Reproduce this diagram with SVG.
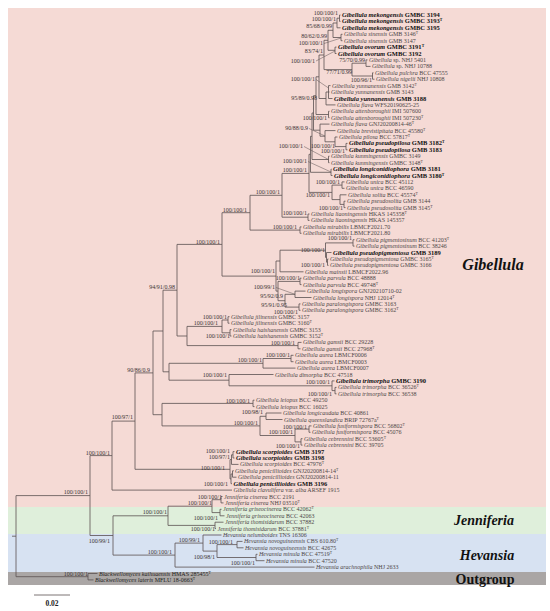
<svg xmlns="http://www.w3.org/2000/svg" width="550" height="611" viewBox="0 0 550 611">
<style>
.t{font-family:"Liberation Serif","Times New Roman",serif;font-size:6px;fill:#4d4747}
.b{font-weight:bold;fill:#111;font-size:6.5px}
.i{font-style:italic}
.sup{font-size:3.8px}
.s{font-family:"Liberation Serif","Times New Roman",serif;font-size:6px;fill:#3a3434;text-anchor:end}
.br{stroke:#5a5050;stroke-width:0.8;fill:none}
.ptr{stroke:#5a5050;stroke-width:0.5;fill:none}
.cl{font-family:"Liberation Serif","Times New Roman",serif;font-weight:bold;fill:#111;text-anchor:middle}
.og{fill:#1e1e1e}
</style>
<rect x="0" y="0" width="550" height="611" fill="#ffffff"/>
<g id="bands">
<rect x="8" y="8" width="538" height="499" fill="#f5dad5"/>
<rect x="8" y="507" width="538" height="27" fill="#dfefdb"/>
<rect x="8" y="534" width="538" height="38" fill="#d7e2f2"/>
<rect x="8" y="572" width="538" height="13" fill="#aaa6a5"/>
</g>
<g id="connectors">
<path class="br" d="M16 495.6V576.7M12 536.2H16M16 495.6H90M16 576.7H88
M88 573.5V579.9M88 573.5H97.5M88 579.9H93.5
M90 455.6V535.5M90 455.6H112M90 535.5H113
M112 421.1V490.1M112 421.1H135M112 490.1H232
M113 515.8V555.1M113 515.8H168M113 555.1H175
M135 372.9V469.3M135 372.9H153M135 469.3H230
M153 331V414.7M153 331H163M153 414.7H162
M163 290.2V371.8M163 290.2H177M163 371.8H169
M162 403.4V425.9M162 403.4H253M162 425.9H260
M177 244.4V336M177 244.4H222M177 336H187
M169 363.3V380.2M169 363.3H263M169 380.2H229
M222 212.7V276.1M222 212.7H250M222 276.1H276
M187 326.4V345.6M187 326.4H222M187 345.6H298
M222 320V332.8M222 320H228M222 332.8H230
M228 316.7V323.2M228 316.7H229.5M228 323.2H229.5
M230 329.6V336M230 329.6H231.5M230 336H231.5
M298 342.4V348.8M298 342.4H301.5M298 348.8H300.5
M250 195.3V230.1M250 195.3H282M250 230.1H300
M282 173.4V217.2M282 173.4H309M282 217.2H308
M308 214V220.4M308 214H309.5M308 220.4H309.5
M300 226.9V233.3M300 226.9H301.5M300 233.3H301.5
M276 261V291.1M276 261H280M276 291.1H278
M280 250.2V271.8M280 250.2H325.5M280 271.8H303.5
M325.5 242.9V257.4M325.5 242.9H353M325.5 257.4H326.5
M353 239.7V246.1M353 239.7H354.5M353 246.1H354.5
M326.5 252.5V262.2M326.5 252.5H331.5M326.5 262.2H327.5
M327.5 259V265.4M327.5 259H328.5M327.5 265.4H328.5
M278 281.4V300.7M278 281.4H300M278 300.7H285
M300 278.2V284.6M300 278.2H301.5M300 284.6H301.5
M285 294.3V307.1M285 294.3H295M285 307.1H299
M295 291.1V297.5M295 291.1H305.5M295 297.5H311.5
M299 303.9V310.3M299 303.9H300.5M299 310.3H300.5
M263 358.5V368.1M263 358.5H291M263 368.1H295.5
M291 355.3V361.7M291 355.3H293.5M291 361.7H293.5
M229 374.5V385.8M229 374.5H273.5M229 385.8H332
M332 380.9V390.6M332 380.9H334.5M332 390.6H335
M335 387.4V393.8M335 387.4H336.5M335 393.8H336.5
M253 400.2V406.6M253 400.2H254.5M253 406.6H254.5
M260 416.3V435.5M260 416.3H266M260 435.5H295
M266 413V419.5M266 413H281.5M266 419.5H282.5
M295 429.1V441.9M295 429.1H309M295 441.9H301
M309 425.9V432.3M309 425.9H311.5M309 432.3H310.5
M301 438.7V445.1M301 438.7H302.5M301 445.1H302.5
M230 459.6V478.9M230 459.6H231.5M230 478.9H231
M231.5 454.8V464.4M231.5 454.8H233M231.5 464.4H238.5
M233 451.6V458M233 451.6H234.5M233 458H234.5
M231 474V483.7M231 474H232.5M231 483.7H232
M232.5 470.8V477.2M232.5 470.8H233.8M232.5 477.2H236.5
M168 506.2V525.4M168 506.2H212M168 525.4H215
M212 499.7V512.6M212 499.7H221M212 512.6H220
M221 496.5V502.9M221 496.5H222.5M221 502.9H223.5
M220 509.3V515.8M220 509.3H221.5M220 515.8H224.5
M215 522.2V528.6M215 522.2H223.5M215 528.6H216
M175 543.1V567.1M175 543.1H203M175 567.1H314.5
M203 535V551.1M203 535H221.5M203 551.1H217
M217 544.6V557.5M217 544.6H237M217 557.5H256
M237 541.4V547.8M237 541.4H242.5M237 547.8H243.5
M256 554.3V560.7M256 554.3H257.5M256 560.7H264.5
M309 154.3V192.4M309 154.3H310.5M309 192.4H332
M310.5 136.3V172.3M310.5 136.3H312M310.5 172.3H331
M331 169.1V175.5M331 169.1H331.5M331 175.5H332.5
M312 113V159.5M312 113H313.5M312 159.5H328.5
M328.5 156.2V162.7M328.5 156.2H329.5M328.5 162.7H329.5
M313.5 95.7V130.2M313.5 95.7H316M313.5 130.2H320
M316 76.8V114.5M316 76.8H319M316 114.5H328.5
M328.5 111.3V117.7M328.5 111.3H329.5M328.5 117.7H329.5
M319 55V98.5M319 55H324M319 98.5H326
M326 92V104.9M326 92H328.5M326 104.9H335.5
M328.5 85.6V98.5M328.5 85.6H330.5M328.5 92H329.5M328.5 98.5H332.5
M324 40.3V69.6M324 40.3H328M324 69.6H352
M328 30.3V50.3M328 30.3H333M328 50.3H335
M333 23V37.5M333 23H337M333 37.5H341
M337 18.2V27.8M337 18.2H339.5M337 27.8H340.5
M339.5 15V21.4M339.5 15H340.5M339.5 21.4H340.5
M341 34.3V40.7M341 34.3H342.5M341 40.7H342.5
M335 47.1V53.5M335 47.1H336.5M335 53.5H336.5
M352 63.2V76M352 63.2H366M352 76H372.5
M366 59.9V66.4M366 59.9H367.5M366 66.4H370.5
M372.5 72.8V79.2M372.5 72.8H373.5M372.5 79.2H374.5
M320 124.1V136.2M320 124.1H329.5M320 136.2H325
M325 130.6V141.8M325 130.6H335.5M325 141.8H335
M335 137V146.6M335 137H337.5M335 146.6H346
M346 143.4V149.8M346 143.4H347.5M346 149.8H347.5
M332 185.1V199.6M332 185.1H342M332 199.6H340
M342 181.9V188.3M342 181.9H344.5M342 188.3H344.5
M340 194.8V204.4M340 194.8H346.5M340 204.4H344
M344 201.2V207.6M344 201.2H345.5M344 207.6H345.5"/>
<path class="ptr" d="M324 43.5L341 38M316 61L335 51M316 79.5L328.5 88M309 128.5L325 136M304 146.5L328.5 159.5M308 161.5L331 172M276 287.5L295 294.3"/>
</g>
<g id="supports">
<text class="s" x="338" y="15.1">100/100/1</text>
<text class="s" x="336" y="21.1">100/100/1</text>
<text class="s" x="332" y="27.8">85/68/0.99</text>
<text class="s" x="327" y="37.8">80/62/0.99</text>
<text class="s" x="323" y="44.8">100/100/1</text>
<text class="s" x="323" y="52.8">83/74/1</text>
<text class="s" x="315" y="62.8">100/100/1</text>
<text class="s" x="365" y="61.8">75/70/0.99</text>
<text class="s" x="352" y="74">77/71/0.99</text>
<text class="s" x="372" y="81.8">100/96/1</text>
<text class="s" x="315" y="80.8">100/100/1</text>
<text class="s" x="317" y="99.8">95/89/0.98</text>
<text class="s" x="327" y="119.8">100/100/1</text>
<text class="s" x="308" y="129.8">90/88/0.9</text>
<text class="s" x="335" y="147.8">100/100/1</text>
<text class="s" x="345" y="152.8">100/100/1</text>
<text class="s" x="303" y="147.8">100/100/1</text>
<text class="s" x="307" y="162.8">100/100/1</text>
<text class="s" x="307" y="171.8">100/100/1</text>
<text class="s" x="340" y="183.8">100/100/1</text>
<text class="s" x="330" y="196.8">100/100/1</text>
<text class="s" x="343" y="209.8">100/100/1</text>
<text class="s" x="280" y="193.8">100/100/1</text>
<text class="s" x="307" y="214.8">100/100/1</text>
<text class="s" x="247" y="211.8">100/100/1</text>
<text class="s" x="297" y="228.8">100/100/1</text>
<text class="s" x="220" y="243.8">100/100/1</text>
<text class="s" x="352" y="239.8">100/100/1</text>
<text class="s" x="325" y="251.8">100/100/1</text>
<text class="s" x="325" y="266.8">100/100/1</text>
<text class="s" x="275" y="272.8">100/100/1</text>
<text class="s" x="300" y="279.8">100/100/1</text>
<text class="s" x="275" y="288.8">100/99/1</text>
<text class="s" x="283" y="297.8">95/92/0.9</text>
<text class="s" x="287" y="306.8">95/91/0.95</text>
<text class="s" x="298" y="313.8">100/100/1</text>
<text class="s" x="227" y="318.8">100/100/1</text>
<text class="s" x="218" y="324.8">100/100/1</text>
<text class="s" x="230" y="337.8">100/100/1</text>
<text class="s" x="175" y="288.8">94/91/0.98</text>
<text class="s" x="295" y="344.8">100/100/1</text>
<text class="s" x="290" y="356.8">100/100/1</text>
<text class="s" x="262" y="361.8">100/100/1</text>
<text class="s" x="227" y="376.8">100/100/1</text>
<text class="s" x="330" y="383.8">100/100/1</text>
<text class="s" x="332" y="395.8">100/100/1</text>
<text class="s" x="250" y="402.8">100/100/1</text>
<text class="s" x="263" y="413.8">100/98/1</text>
<text class="s" x="258" y="424.8">100/100/1</text>
<text class="s" x="307" y="428.8">100/100/1</text>
<text class="s" x="293" y="433.8">100/100/1</text>
<text class="s" x="300" y="447.8">100/100/1</text>
<text class="s" x="230" y="452.8">100/100/1</text>
<text class="s" x="230" y="458.8">100/97/1</text>
<text class="s" x="225" y="469.8">100/100/1</text>
<text class="s" x="228" y="485.8">100/100/1</text>
<text class="s" x="150" y="371.8">90/86/0.9</text>
<text class="s" x="133" y="418.8">100/97/1</text>
<text class="s" x="110" y="454.8">100/100/1</text>
<text class="s" x="88" y="493.8">100/100/1</text>
<text class="s" x="110" y="542.8">100/99/1</text>
<text class="s" x="167" y="513.8">100/100/1</text>
<text class="s" x="222" y="498.8">100/100/1</text>
<text class="s" x="212" y="504.8">100/100/1</text>
<text class="s" x="218" y="519.8">100/100/1</text>
<text class="s" x="215" y="530.8">100/100/1</text>
<text class="s" x="200" y="541.8">100/99/1</text>
<text class="s" x="233" y="543.8">100/100/1</text>
<text class="s" x="215" y="558.8">100/98/1</text>
<text class="s" x="255" y="564.8">100/100/1</text>
<text class="s" x="172" y="553.8">100/100/1</text>
<text class="s" x="88" y="575.8">100/100/1</text>
</g>
<g id="leaves">
<g id="leaf-01"><text class="t b" x="342" y="17"><tspan class="i">Gibellula mekongensis</tspan> GMBC 3194</text></g>
<g id="leaf-02"><text class="t b" x="342" y="23.4"><tspan class="i">Gibellula mekongensis</tspan> GMBC 3193<tspan class="sup" dy="-2">T</tspan></text></g>
<g id="leaf-03"><text class="t b" x="342" y="29.8"><tspan class="i">Gibellula mekongensis</tspan> GMBC 3195</text></g>
<g id="leaf-04"><text class="t" x="344" y="36.3"><tspan class="i">Gibellula sinensis</tspan> GMB 3146<tspan class="sup" dy="-2">T</tspan></text></g>
<g id="leaf-05"><text class="t" x="344" y="42.7"><tspan class="i">Gibellula sinensis</tspan> GMB 3147</text></g>
<g id="leaf-06"><text class="t b" x="338" y="49.1"><tspan class="i">Gibellula ovorum</tspan> GMBC 3191<tspan class="sup" dy="-2">T</tspan></text></g>
<g id="leaf-07"><text class="t b" x="338" y="55.5"><tspan class="i">Gibellula ovorum</tspan> GMBC 3192</text></g>
<g id="leaf-08"><text class="t" x="369" y="61.9"><tspan class="i">Gibellula</tspan> sp. NHJ 5401</text></g>
<g id="leaf-09"><text class="t" x="372" y="68.4"><tspan class="i">Gibellula</tspan> sp. NHJ 10788</text></g>
<g id="leaf-10"><text class="t" x="375" y="74.8"><tspan class="i">Gibellula pulchra</tspan> BCC 47555</text></g>
<g id="leaf-11"><text class="t" x="376" y="81.2"><tspan class="i">Gibellula nigelii</tspan> NHJ 10808</text></g>
<g id="leaf-12"><text class="t" x="332" y="87.6"><tspan class="i">Gibellula yunnanensis</tspan> GMB 3142<tspan class="sup" dy="-2">T</tspan></text></g>
<g id="leaf-13"><text class="t" x="331" y="94"><tspan class="i">Gibellula yunnanensis</tspan> GMB 3143</text></g>
<g id="leaf-14"><text class="t b" x="334" y="100.5"><tspan class="i">Gibellula yunnanensis</tspan> GMB 3188</text></g>
<g id="leaf-15"><text class="t" x="337" y="106.9"><tspan class="i">Gibellula flava</tspan> WFS20190625-25</text></g>
<g id="leaf-16"><text class="t" x="331" y="113.3"><tspan class="i">Gibellula attenboroughii</tspan> IMI 507600</text></g>
<g id="leaf-17"><text class="t" x="331" y="119.7"><tspan class="i">Gibellula attenboroughii</tspan> IMI 507230<tspan class="sup" dy="-2">T</tspan></text></g>
<g id="leaf-18"><text class="t" x="331" y="126.1"><tspan class="i">Gibellula flava</tspan> GNJ20200814-46<tspan class="sup" dy="-2">T</tspan></text></g>
<g id="leaf-19"><text class="t" x="337" y="132.6"><tspan class="i">Gibellula brevistipitata</tspan> BCC 45580<tspan class="sup" dy="-2">T</tspan></text></g>
<g id="leaf-20"><text class="t" x="339" y="139"><tspan class="i">Gibellula pilosa</tspan> BCC 57817<tspan class="sup" dy="-2">T</tspan></text></g>
<g id="leaf-21"><text class="t b" x="349" y="145.4"><tspan class="i">Gibellula pseudopilosa</tspan> GMB 3182<tspan class="sup" dy="-2">T</tspan></text></g>
<g id="leaf-22"><text class="t b" x="349" y="151.8"><tspan class="i">Gibellula pseudopilosa</tspan> GMB 3183</text></g>
<g id="leaf-23"><text class="t" x="331" y="158.2"><tspan class="i">Gibellula kunmingensis</tspan> GMBC 3149</text></g>
<g id="leaf-24"><text class="t" x="331" y="164.7"><tspan class="i">Gibellula kunmingensis</tspan> GMBC 3148<tspan class="sup" dy="-2">T</tspan></text></g>
<g id="leaf-25"><text class="t b" x="333" y="171.1"><tspan class="i">Gibellula longiconidiophora</tspan> GMB 3181</text></g>
<g id="leaf-26"><text class="t b" x="334" y="177.5"><tspan class="i">Gibellula longiconidiophora</tspan> GMB 3180<tspan class="sup" dy="-2">T</tspan></text></g>
<g id="leaf-27"><text class="t" x="346" y="183.9"><tspan class="i">Gibellula unica</tspan> BCC 45112</text></g>
<g id="leaf-28"><text class="t" x="346" y="190.3"><tspan class="i">Gibellula unica</tspan> BCC 46590</text></g>
<g id="leaf-29"><text class="t" x="348" y="196.8"><tspan class="i">Gibellula solita</tspan> BCC 45574<tspan class="sup" dy="-2">T</tspan></text></g>
<g id="leaf-30"><text class="t" x="347" y="203.2"><tspan class="i">Gibellula pseudosolita</tspan> GMB 3144</text></g>
<g id="leaf-31"><text class="t" x="347" y="209.6"><tspan class="i">Gibellula pseudosolita</tspan> GMB 3145<tspan class="sup" dy="-2">T</tspan></text></g>
<g id="leaf-32"><text class="t" x="311" y="216"><tspan class="i">Gibellula liaoningensis</tspan> HKAS 145358<tspan class="sup" dy="-2">T</tspan></text></g>
<g id="leaf-33"><text class="t" x="311" y="222.4"><tspan class="i">Gibellula liaoningensis</tspan> HKAS 145357</text></g>
<g id="leaf-34"><text class="t" x="303" y="228.9"><tspan class="i">Gibellula mirabilis</tspan> LBMCF2021.70</text></g>
<g id="leaf-35"><text class="t" x="303" y="235.3"><tspan class="i">Gibellula mirabilis</tspan> LBMCF2021.80</text></g>
<g id="leaf-36"><text class="t" x="356" y="241.7"><tspan class="i">Gibellula pigmentosinum</tspan> BCC 41203<tspan class="sup" dy="-2">T</tspan></text></g>
<g id="leaf-37"><text class="t" x="356" y="248.1"><tspan class="i">Gibellula pigmentosinum</tspan> BCC 38246</text></g>
<g id="leaf-38"><text class="t b" x="333" y="254.5"><tspan class="i">Gibellula pseudopigmentosa</tspan> GMB 3189</text></g>
<g id="leaf-39"><text class="t" x="330" y="261"><tspan class="i">Gibellula pseudopigmentosa</tspan> GMBC 3165<tspan class="sup" dy="-2">T</tspan></text></g>
<g id="leaf-40"><text class="t" x="330" y="267.4"><tspan class="i">Gibellula pseudopigmentosa</tspan> GMBC 3166</text></g>
<g id="leaf-41"><text class="t" x="305" y="273.8"><tspan class="i">Gibellula mainsii</tspan> LBMCF2022.96</text></g>
<g id="leaf-42"><text class="t" x="303" y="280.2"><tspan class="i">Gibellula parvula</tspan> BCC 48888</text></g>
<g id="leaf-43"><text class="t" x="303" y="286.6"><tspan class="i">Gibellula parvula</tspan> BCC 49748<tspan class="sup" dy="-2">T</tspan></text></g>
<g id="leaf-44"><text class="t" x="307" y="293.1"><tspan class="i">Gibellula longispora</tspan> GNJ20210710-02</text></g>
<g id="leaf-45"><text class="t" x="313" y="299.5"><tspan class="i">Gibellula longispora</tspan> NHJ 12014<tspan class="sup" dy="-2">T</tspan></text></g>
<g id="leaf-46"><text class="t" x="302" y="305.9"><tspan class="i">Gibellula paralongispora</tspan> GMBC 3163</text></g>
<g id="leaf-47"><text class="t" x="302" y="312.3"><tspan class="i">Gibellula paralongispora</tspan> GMBC 3162<tspan class="sup" dy="-2">T</tspan></text></g>
<g id="leaf-48"><text class="t" x="231" y="318.7"><tspan class="i">Gibellula jilinensis</tspan> GMBC 3157</text></g>
<g id="leaf-49"><text class="t" x="231" y="325.2"><tspan class="i">Gibellula jilinensis</tspan> GMBC 3160<tspan class="sup" dy="-2">T</tspan></text></g>
<g id="leaf-50"><text class="t" x="233" y="331.6"><tspan class="i">Gibellula haishanensis</tspan> GMBC 3153</text></g>
<g id="leaf-51"><text class="t" x="233" y="338"><tspan class="i">Gibellula haishanensis</tspan> GMBC 3152<tspan class="sup" dy="-2">T</tspan></text></g>
<g id="leaf-52"><text class="t" x="303" y="344.4"><tspan class="i">Gibellula gamsii</tspan> BCC 29228</text></g>
<g id="leaf-53"><text class="t" x="302" y="350.8"><tspan class="i">Gibellula gamsii</tspan> BCC 27968<tspan class="sup" dy="-2">T</tspan></text></g>
<g id="leaf-54"><text class="t" x="295" y="357.3"><tspan class="i">Gibellula aurea</tspan> LBMCF0006</text></g>
<g id="leaf-55"><text class="t" x="295" y="363.7"><tspan class="i">Gibellula aurea</tspan> LBMCF0003</text></g>
<g id="leaf-56"><text class="t" x="297" y="370.1"><tspan class="i">Gibellula aurea</tspan> LBMCF0007</text></g>
<g id="leaf-57"><text class="t" x="275" y="376.5"><tspan class="i">Gibellula dimorpha</tspan> BCC 47518</text></g>
<g id="leaf-58"><text class="t b" x="336" y="382.9"><tspan class="i">Gibellula trimorpha</tspan> GMBC 3190</text></g>
<g id="leaf-59"><text class="t" x="338" y="389.4"><tspan class="i">Gibellula trimorpha</tspan> BCC 36526<tspan class="sup" dy="-2">T</tspan></text></g>
<g id="leaf-60"><text class="t" x="338" y="395.8"><tspan class="i">Gibellula trimorpha</tspan> BCC 36538</text></g>
<g id="leaf-61"><text class="t" x="256" y="402.2"><tspan class="i">Gibellula leiopus</tspan> BCC 49250</text></g>
<g id="leaf-62"><text class="t" x="256" y="408.6"><tspan class="i">Gibellula leiopus</tspan> BCC 16025</text></g>
<g id="leaf-63"><text class="t" x="283" y="415"><tspan class="i">Gibellula longicaudata</tspan> BCC 40861</text></g>
<g id="leaf-64"><text class="t" x="284" y="421.5"><tspan class="i">Gibellula queenslandica</tspan> BRIP 72767a<tspan class="sup" dy="-2">T</tspan></text></g>
<g id="leaf-65"><text class="t" x="313" y="427.9"><tspan class="i">Gibellula fusiformispora</tspan> BCC 56802<tspan class="sup" dy="-2">T</tspan></text></g>
<g id="leaf-66"><text class="t" x="312" y="434.3"><tspan class="i">Gibellula fusiformispora</tspan> BCC 45076</text></g>
<g id="leaf-67"><text class="t" x="304" y="440.7"><tspan class="i">Gibellula cebrennini</tspan> BCC 53605<tspan class="sup" dy="-2">T</tspan></text></g>
<g id="leaf-68"><text class="t" x="304" y="447.1"><tspan class="i">Gibellula cebrennini</tspan> BCC 39705</text></g>
<g id="leaf-69"><text class="t b" x="236" y="453.6"><tspan class="i">Gibellula scorpioides</tspan> GMB 3197</text></g>
<g id="leaf-70"><text class="t b" x="236" y="460"><tspan class="i">Gibellula scorpioides</tspan> GMB 3198</text></g>
<g id="leaf-71"><text class="t" x="240" y="466.4"><tspan class="i">Gibellula scorpioides</tspan> BCC 47976<tspan class="sup" dy="-2">T</tspan></text></g>
<g id="leaf-72"><text class="t" x="235" y="472.8"><tspan class="i">Gibellula penicillioides</tspan> GNJ20200814-14<tspan class="sup" dy="-2">T</tspan></text></g>
<g id="leaf-73"><text class="t" x="238" y="479.2"><tspan class="i">Gibellula penicillioides</tspan> GNJ20200814-11</text></g>
<g id="leaf-74"><text class="t b" x="233.5" y="485.7"><tspan class="i">Gibellula penicillioides</tspan> GMB 3196</text></g>
<g id="leaf-75"><text class="t" x="233.5" y="492.1"><tspan class="i">Gibellula clavulifera</tspan> var. <tspan class="i">alba</tspan> ARSEF 1915</text></g>
<g id="leaf-76"><text class="t" x="224" y="498.5"><tspan class="i">Jenniferia cinerea</tspan> BCC 2191</text></g>
<g id="leaf-77"><text class="t" x="225" y="504.9"><tspan class="i">Jenniferia cinerea</tspan> NHJ 03510<tspan class="sup" dy="-2">T</tspan></text></g>
<g id="leaf-78"><text class="t" x="223" y="511.3"><tspan class="i">Jenniferia griseocinerea</tspan> BCC 42062<tspan class="sup" dy="-2">T</tspan></text></g>
<g id="leaf-79"><text class="t" x="226" y="517.8"><tspan class="i">Jenniferia griseocinerea</tspan> BCC 42063</text></g>
<g id="leaf-80"><text class="t" x="225" y="524.2"><tspan class="i">Jenniferia thomisidarum</tspan> BCC 37882</text></g>
<g id="leaf-81"><text class="t" x="217.5" y="530.6"><tspan class="i">Jenniferia thomisidarum</tspan> BCC 37881<tspan class="sup" dy="-2">T</tspan></text></g>
<g id="leaf-82"><text class="t" x="223" y="537"><tspan class="i">Hevansia nelumboides</tspan> TNS 16306</text></g>
<g id="leaf-83"><text class="t" x="244" y="543.4"><tspan class="i">Hevansia novoguineensis</tspan> CBS 610.80<tspan class="sup" dy="-2">T</tspan></text></g>
<g id="leaf-84"><text class="t" x="245" y="549.8"><tspan class="i">Hevansia novoguineensis</tspan> BCC 42675</text></g>
<g id="leaf-85"><text class="t" x="259" y="556.3"><tspan class="i">Hevansia minula</tspan> BCC 47519<tspan class="sup" dy="-2">T</tspan></text></g>
<g id="leaf-86"><text class="t" x="266" y="562.7"><tspan class="i">Hevansia minula</tspan> BCC 47520</text></g>
<g id="leaf-87"><text class="t" x="316" y="569.1"><tspan class="i">Hevansia arachnophila</tspan> NHJ 2633</text></g>
<g id="leaf-88"><text class="t og" x="99" y="575.5"><tspan class="i">Blackwellomyces kaihuaensis</tspan> HMAS 285455<tspan class="sup" dy="-2">T</tspan></text></g>
<g id="leaf-89"><text class="t og" x="95" y="581.9"><tspan class="i">Blackwellomyces lateris</tspan> MFLU 18-0663<tspan class="sup" dy="-2">T</tspan></text></g>
</g>
<g id="clade-labels">
<text class="cl i" x="493" y="270" font-size="16">Gibellula</text>
<text class="cl i" x="484" y="525" font-size="14">Jenniferia</text>
<text class="cl i" x="487" y="560" font-size="14">Hevansia</text>
<text class="cl" x="485" y="583.5" font-size="14">Outgroup</text>
</g>
<g id="scale-bar">
<path class="br" d="M34 595H70"/>
<text x="52" y="606" font-family="Liberation Serif, Times New Roman, serif" font-size="7.5" font-weight="bold" fill="#222" text-anchor="middle">0.02</text>
</g>
</svg>
